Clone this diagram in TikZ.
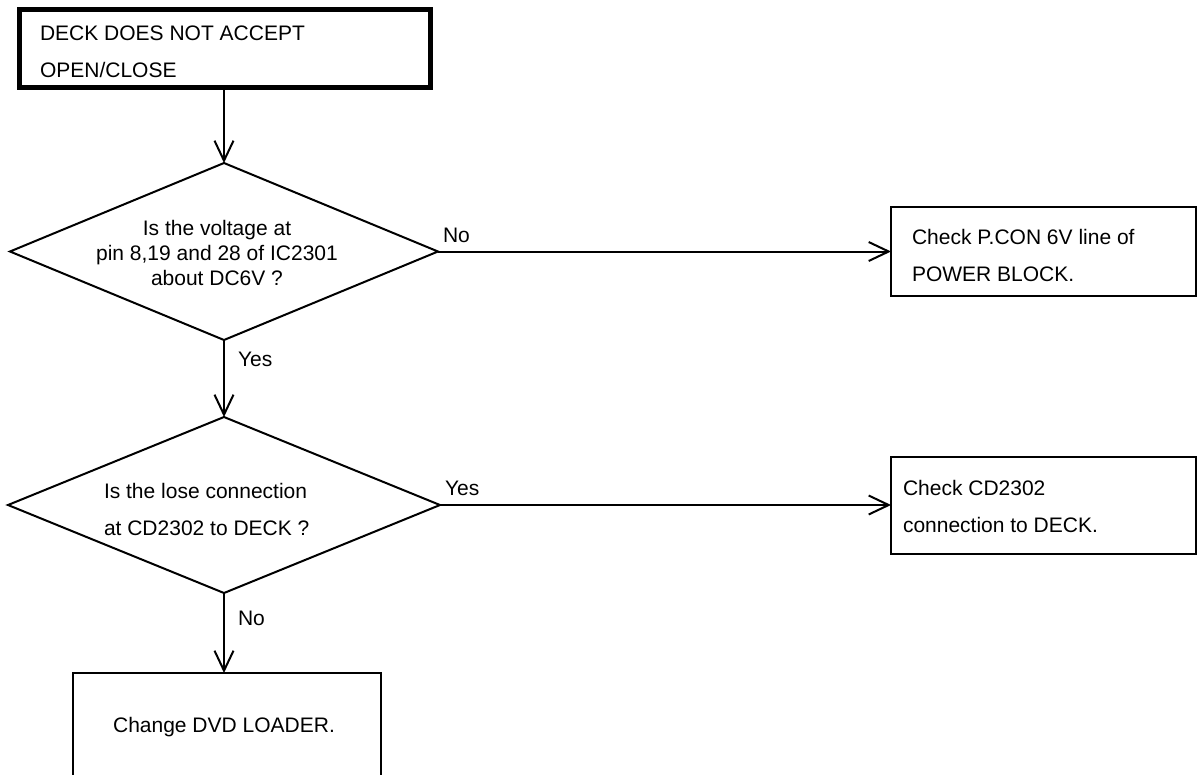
\documentclass[tikz,border=0pt]{standalone}
\usepackage{fontspec}
\setmainfont{Liberation Sans}
\usetikzlibrary{shapes.geometric,arrows.meta}
\begin{document}
\begin{tikzpicture}[x=1pt,y=-1pt,
  every node/.style={inner sep=0pt, outer sep=0pt},
  txt/.style={font=\fontsize{21}{37}\selectfont, align=left},
  lbl/.style={font=\fontsize{21}{25}\selectfont},
  box/.style={draw, line width=2pt, rectangle},
  startbox/.style={draw, line width=5pt, rectangle},
  decision/.style={draw, line width=2pt, diamond},
  conn/.style={line width=2pt, -{Straight Barb[length=20pt, width=19pt, line width=2pt]}}
]
\useasboundingbox (0,0) rectangle (1198,774);
% nodes
\node[startbox, minimum width=410.5pt, minimum height=77.5pt] (start) at (224.75,48.25) {};
\node[txt, anchor=west] (startT) at (40,52) {DECK DOES NOT ACCEPT\\OPEN/CLOSE};

\node[decision, minimum width=428pt, minimum height=177pt] (d1) at (224,251.5) {};
\node[lbl, align=center] (d1T) at (217,253) {Is the voltage at\\pin 8,19 and 28 of IC2301\\about DC6V ?};

\node[box, minimum width=305pt, minimum height=89pt] (b1) at (1043.5,251.5) {};
\node[txt, anchor=west] (b1T) at (912,255) {Check P.CON 6V line of\\POWER BLOCK.};

\node[decision, minimum width=432pt, minimum height=176pt] (d2) at (224,505) {};
\node[txt, anchor=west] (d2T) at (104,509) {Is the lose connection\\at CD2302 to DECK ?};

\node[box, minimum width=305pt, minimum height=97pt] (b2) at (1043.5,505) {};
\node[txt, anchor=west] (b2T) at (903,506) {Check CD2302\\connection to DECK.};

\node[box, minimum width=308pt, minimum height=160pt] (b3) at (227,753) {};
\node[lbl] (b3T) at (224,727) {Change DVD LOADER.};

% connectors
\draw[conn] (d1.north |- start.south) -- (d1.north);
\draw[conn] (d1.east) -- node[lbl, pos=0.0, anchor=south west, xshift=5pt, yshift=9pt] (no1) {No} (b1.west);
\draw[conn] (d1.south) -- node[lbl, pos=0.25, anchor=west, xshift=14pt] (yes1) {Yes} (d2.north);
\draw[conn] (d2.east) -- node[lbl, pos=0.0, anchor=south west, xshift=5pt, yshift=9pt] (yes2) {Yes} (b2.west);
\draw[conn] (d2.south) -- node[lbl, pos=0.32, anchor=west, xshift=14pt] (no2) {No} (d2.south |- b3.north);
\end{tikzpicture}
\end{document}
